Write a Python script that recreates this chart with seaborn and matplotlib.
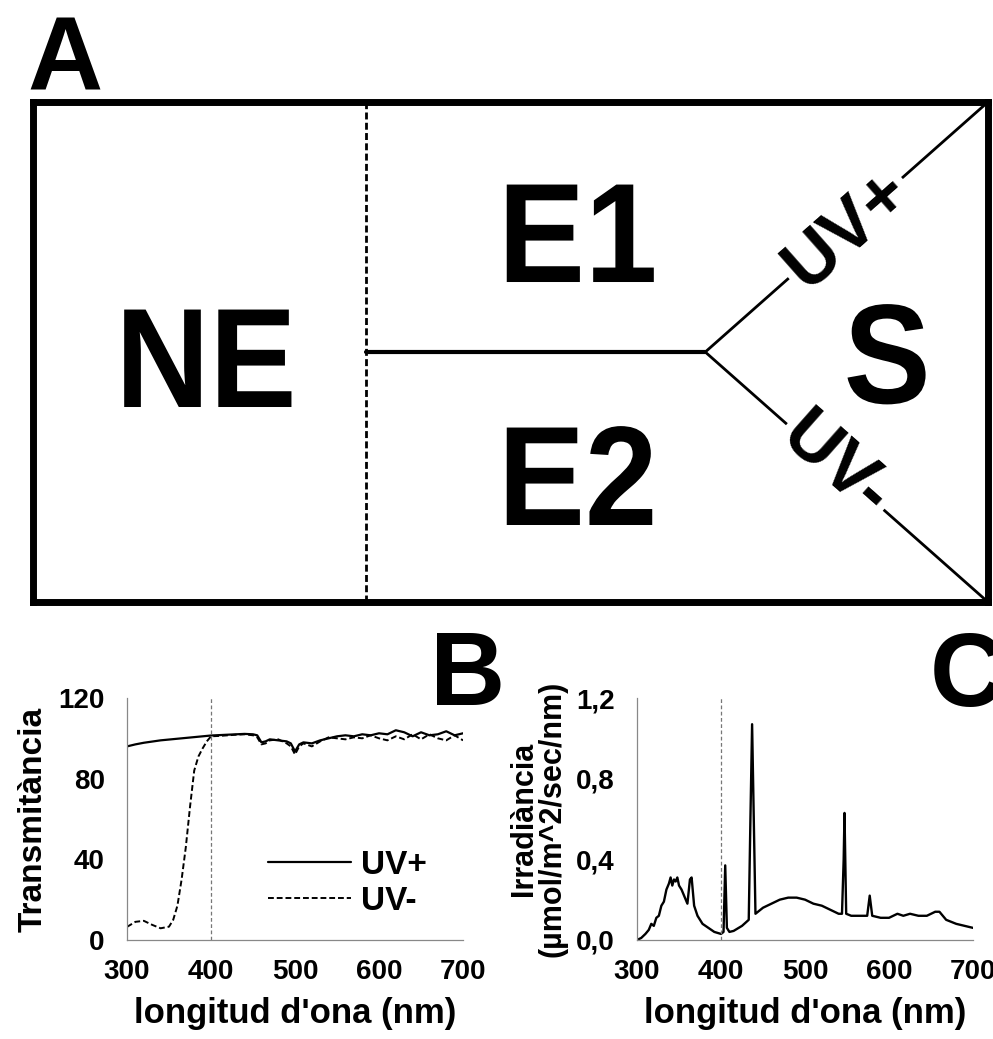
import numpy as np
import pandas as pd
import matplotlib
matplotlib.use("Agg")
import matplotlib.pyplot as plt
import matplotlib.patheffects as pe
from matplotlib.transforms import Affine2D
import seaborn as sns

# panel B: transmittance of the two filters
wl_b = [300, 310, 320, 330, 340, 350, 355, 360, 365, 370, 375, 380, 385, 390, 395,
        400, 410, 420, 430, 440, 450, 455, 460, 465, 470, 480, 490, 495, 500, 505,
        510, 520, 530, 540, 550, 560, 570, 580, 590, 600, 610, 620, 630, 640, 650,
        660, 670, 680, 690, 700]
uv_plus = [96, 97, 97.8, 98.4, 99, 99.4, 99.6, 99.8, 100, 100.2, 100.4, 100.6, 100.8, 101, 101.2,
           101.4, 101.6, 101.8, 102, 102.2, 102, 101.5, 98, 98.5, 99.5, 99, 98.5, 97.5, 93.5, 97,
           98, 97.5, 99, 100, 101, 101.5, 101, 102, 101.5, 102.5, 102, 104, 103, 101, 103,
           101.5, 102, 103.5, 101.5, 102.5]
uv_minus = [6.5, 9, 9.5, 7.5, 5.8, 6.6, 10, 17, 30, 46, 66, 84, 91, 95, 98.5,
            101, 101.2, 101.5, 101.8, 102, 101.5, 100.5, 97, 97.5, 99, 99.5, 97.5, 96, 92, 96,
            97.5, 96, 98.5, 100.5, 100, 99.5, 100.5, 100, 101.5, 100, 99, 101, 99.5, 102, 99.5,
            102, 100, 99, 101.5, 99]

# panel C: lamp irradiance
wl_c = [300, 305, 310, 314, 317, 320, 323, 326, 329, 332, 335, 338, 340, 342, 344,
        346, 348, 350, 353, 356, 360, 363, 365, 368, 372, 378, 385, 392, 400, 403,
        405, 407, 410, 415, 425, 433, 435, 437, 439, 441, 450, 460, 470, 480, 490,
        500, 510, 520, 530, 540, 544, 546, 547, 549, 555, 565, 574, 577, 580, 590,
        600, 610, 617, 625, 635, 645, 655, 660, 668, 680, 690, 700]
irr = [0.0, 0.01, 0.03, 0.05, 0.08, 0.07, 0.11, 0.12, 0.17, 0.19, 0.25, 0.28, 0.31, 0.27, 0.30,
       0.29, 0.31, 0.27, 0.25, 0.22, 0.18, 0.30, 0.31, 0.17, 0.12, 0.08, 0.06, 0.04, 0.03, 0.04,
       0.37, 0.06, 0.04, 0.045, 0.07, 0.10, 0.60, 1.07, 0.60, 0.13, 0.16, 0.18, 0.20, 0.21, 0.21,
       0.20, 0.18, 0.17, 0.15, 0.13, 0.13, 0.40, 0.63, 0.13, 0.12, 0.12, 0.12, 0.22, 0.12, 0.11,
       0.11, 0.13, 0.12, 0.13, 0.12, 0.12, 0.14, 0.14, 0.10, 0.08, 0.07, 0.06]

x_ticks = [300, 400, 500, 600, 700]
b_yticks = [0, 40, 80, 120]
c_yticks = [0.0, 0.4, 0.8, 1.2]
c_ylabels = ["0,0", "0,4", "0,8", "1,2"]

# panel A schematic, in box units (0..1)
split_x = 0.349
fork = (0.704, 0.5)
zones = [("NE", 0.0864, 0.39), ("E1", 0.487, 0.64), ("E2", 0.487, 0.154), ("S", 0.849, 0.398)]


class Condense(pe.AbstractPathEffect):
    # squeeze glyphs horizontally, the lettering in the box is a bit narrow
    def __init__(self, sx):
        super().__init__()
        self.sx = sx

    def draw_path(self, renderer, gc, tpath, affine, rgbFace=None):
        renderer.draw_path(gc, tpath, Affine2D().scale(self.sx, 1) + affine, rgbFace)


sns.set_style("white")
plt.rcParams['font.family'] = ['Liberation Sans', 'DejaVu Sans']
plt.rcParams['font.weight'] = 'bold'
plt.rcParams['axes.labelweight'] = 'bold'
plt.rcParams['text.color'] = 'black'
plt.rcParams['axes.labelcolor'] = 'black'
plt.rcParams['xtick.color'] = 'black'
plt.rcParams['ytick.color'] = 'black'

fig = plt.figure(figsize=(9.93, 10.39), dpi=100)

# ---- A ----
axA = fig.add_axes([0.0332, 0.4206, 0.9617, 0.4812])
axA.set_xlim(0, 1)
axA.set_ylim(0, 1)
axA.set_xticks([])
axA.set_yticks([])
for s in axA.spines.values():
    s.set_linewidth(5)
    s.set_color("black")
axA.plot([split_x, split_x], [0, 1], color="black", lw=2, ls=(0, (2.5, 1.2)))
axA.plot([split_x, fork[0]], [fork[1], fork[1]], color="black", lw=3)
axA.plot([fork[0], 1], [fork[1], 1], color="black", lw=2, solid_capstyle="butt")
axA.plot([fork[0], 1], [fork[1], 0], color="black", lw=2, solid_capstyle="butt")
for name, zx, zy in zones:
    axA.text(zx, zy, name, fontsize=102, fontweight="bold", ha="left", va="baseline",
             path_effects=[Condense(0.92)])

# labels sitting on the diagonals
fig.canvas.draw()
p0 = axA.transData.transform(fork)
p1 = axA.transData.transform((1, 1))
p2 = axA.transData.transform((1, 0))
ang_up = np.degrees(np.arctan2(p1[1] - p0[1], p1[0] - p0[0]))
ang_dn = np.degrees(np.arctan2(p2[1] - p0[1], p2[0] - p0[0]))
axA.text(0.852, 0.745, "UV+", fontsize=52, fontweight="bold", rotation=ang_up,
         rotation_mode="anchor", ha="center", va="center",
         bbox=dict(facecolor="white", edgecolor="none", pad=3))
axA.text(0.841, 0.272, "UV-", fontsize=52, fontweight="bold", rotation=ang_dn,
         rotation_mode="anchor", ha="center", va="center",
         bbox=dict(facecolor="white", edgecolor="none", pad=3))

# ---- B ----
axB = fig.add_axes([0.1279, 0.0953, 0.3384, 0.2329])
sns.lineplot(x=wl_b, y=uv_plus, ax=axB, color="black", lw=1.6, label="UV+")
sns.lineplot(x=wl_b, y=uv_minus, ax=axB, color="black", lw=1.4, label="UV-")
axB.lines[1].set_dashes((3, 1.5))
axB.plot([400, 400], [0, 120], color="#777777", lw=0.9, ls=(0, (3, 2)))
axB.set_xlim(300, 700)
axB.set_ylim(0, 120)
axB.set_xticks(x_ticks)
axB.set_yticks(b_yticks)
axB.set_ylabel("Transmitància", fontsize=24, labelpad=7)
axB.set_xlabel("longitud d'ona (nm)", fontsize=25, labelpad=8)
axB.legend(loc="center", bbox_to_anchor=(0.655, 0.235), frameon=False,
           prop={"size": 24, "weight": "bold"}, borderpad=0,
           handlelength=2.5, handletextpad=0.3, labelspacing=0.15)

# ---- C ----
axC = fig.add_axes([0.6415, 0.0953, 0.3384, 0.2329])
sns.lineplot(x=wl_c, y=irr, ax=axC, color="black", lw=1.7)
axC.plot([400, 400], [0, 1.2], color="#777777", lw=0.9, ls=(0, (3, 2)))
axC.set_xlim(300, 700)
axC.set_ylim(0, 1.2)
axC.set_xticks(x_ticks)
axC.set_yticks(c_yticks)
axC.set_yticklabels(c_ylabels)
axC.set_ylabel("Irradiància\n(µmol/m^2/sec/nm)", fontsize=22, labelpad=6, linespacing=0.95)
axC.set_xlabel("longitud d'ona (nm)", fontsize=25, labelpad=8)

for ax in (axB, axC):
    sns.despine(ax=ax)
    for side in ("left", "bottom"):
        ax.spines[side].set_color("#888888")
        ax.spines[side].set_linewidth(0.9)
    ax.tick_params(axis="x", length=3, color="#888888", labelcolor="black", pad=11, labelsize=20)
    ax.tick_params(axis="y", length=0, labelcolor="black", pad=16, labelsize=20)
    for lab in ax.get_xticklabels() + ax.get_yticklabels():
        lab.set_fontweight("bold")

fig.text(27 / 993, 1 - 90 / 1039, "A", fontsize=75, fontweight="bold", ha="left", va="baseline")
fig.text(430 / 993, 1 - 705 / 1039, "B", fontsize=75, fontweight="bold", ha="left", va="baseline")
fig.text(930 / 993, 1 - 706 / 1039, "C", fontsize=75, fontweight="bold", ha="left", va="baseline")

fig.savefig("out.png", dpi=100, facecolor="white")
